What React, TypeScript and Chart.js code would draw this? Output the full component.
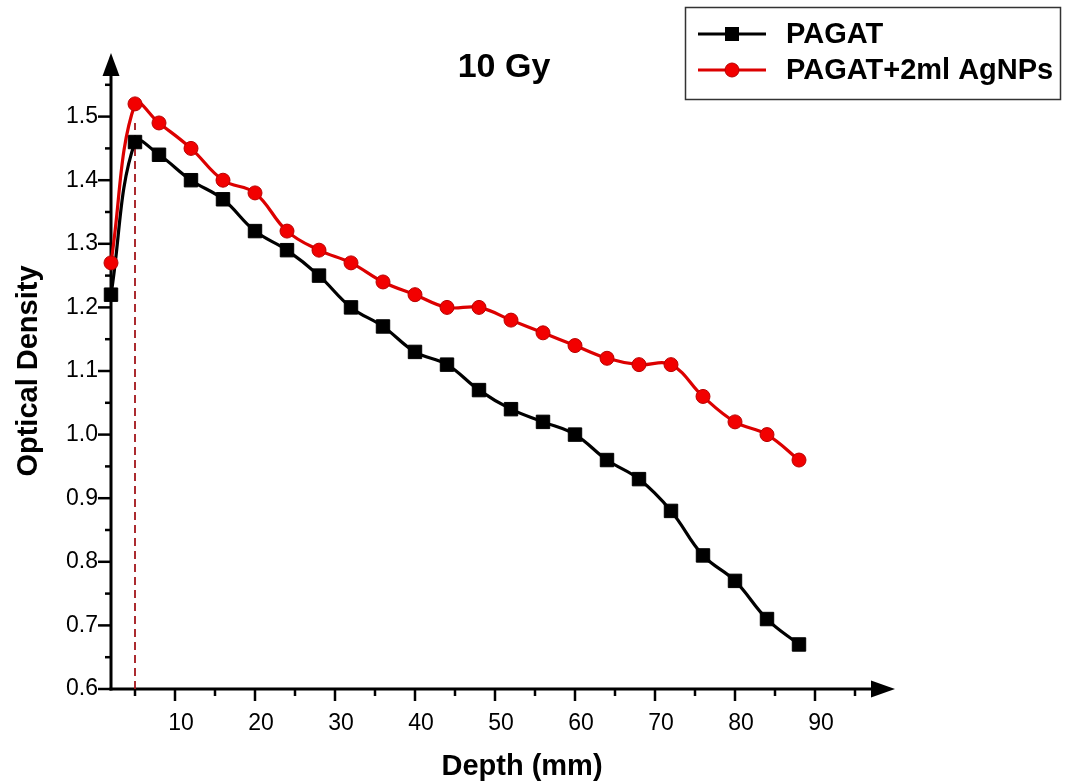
import React, { useEffect, useRef } from "react";
import { Chart, registerables } from "chart.js";

Chart.register(...registerables);

const FONT = "'Liberation Sans', Arial, Helvetica, sans-serif";

const depth = [2, 5, 8, 12, 16, 20, 24, 28, 32, 36, 40, 44, 48, 52, 56, 60, 64, 68, 72, 76, 80, 84, 88];
const pagat = [1.22, 1.46, 1.44, 1.40, 1.37, 1.32, 1.29, 1.25, 1.20, 1.17, 1.13, 1.11, 1.07, 1.04, 1.02, 1.00, 0.96, 0.93, 0.88, 0.81, 0.77, 0.71, 0.67];
const pagatAg = [1.27, 1.52, 1.49, 1.45, 1.40, 1.38, 1.32, 1.29, 1.27, 1.24, 1.22, 1.20, 1.20, 1.18, 1.16, 1.14, 1.12, 1.11, 1.11, 1.06, 1.02, 1.00, 0.96];
const markerLineX = [5, 5];
const markerLineY = [0.6, 1.49];

const xMajorTicks = [10, 20, 30, 40, 50, 60, 70, 80, 90];
const xMinorTicks = [5, 15, 25, 35, 45, 55, 65, 75, 85, 95];
const yMajorTicks = [0.6, 0.7, 0.8, 0.9, 1.0, 1.1, 1.2, 1.3, 1.4, 1.5];
const yMinorTicks = [0.65, 0.75, 0.85, 0.95, 1.05, 1.15, 1.25, 1.35, 1.45, 1.55];

const seriesLabels = ["PAGAT", "PAGAT+2ml AgNPs"];
const chartTitle = "10 Gy";
const xTitle = "Depth (mm)";
const yTitle = "Optical Density";

const BLACK = "#000000";
const RED_LINE = "#dc0000";
const RED_FILL = "#f20000";
const RED_EDGE = "#b80000";
const DASH_RED = "#a3151a";

const decorPlugin = {
  id: "decor",
  beforeDatasetsDraw(chart: any) {
    const { ctx, chartArea: ca, scales } = chart;
    const x = scales.x;
    const y = scales.y;
    ctx.save();
    ctx.strokeStyle = "#000";
    ctx.fillStyle = "#000";
    ctx.lineCap = "butt";
    // axis lines
    ctx.lineWidth = 3;
    ctx.beginPath();
    ctx.moveTo(ca.left - 1.5, ca.bottom);
    ctx.lineTo(ca.right - 12, ca.bottom);
    ctx.stroke();
    ctx.beginPath();
    ctx.moveTo(ca.left, ca.bottom + 1.5);
    ctx.lineTo(ca.left, ca.top + 12);
    ctx.stroke();
    // arrowheads
    ctx.beginPath();
    ctx.moveTo(ca.right, ca.bottom);
    ctx.lineTo(ca.right - 24, ca.bottom - 8.5);
    ctx.lineTo(ca.right - 24, ca.bottom + 8.5);
    ctx.closePath();
    ctx.fill();
    ctx.beginPath();
    ctx.moveTo(ca.left, ca.top);
    ctx.lineTo(ca.left - 8.5, ca.top + 23);
    ctx.lineTo(ca.left + 8.5, ca.top + 23);
    ctx.closePath();
    ctx.fill();
    // ticks
    ctx.lineWidth = 2.5;
    const seg = (x1: number, y1: number, x2: number, y2: number) => {
      ctx.beginPath();
      ctx.moveTo(x1, y1);
      ctx.lineTo(x2, y2);
      ctx.stroke();
    };
    xMajorTicks.forEach((v) => {
      const p = x.getPixelForValue(v);
      seg(p, ca.bottom, p, ca.bottom + 12);
    });
    xMinorTicks.forEach((v) => {
      const p = x.getPixelForValue(v);
      seg(p, ca.bottom, p, ca.bottom + 7);
    });
    yMajorTicks.forEach((v) => {
      const p = y.getPixelForValue(v);
      seg(ca.left - 13, p, ca.left, p);
    });
    yMinorTicks.forEach((v) => {
      const p = y.getPixelForValue(v);
      seg(ca.left - 6, p, ca.left, p);
    });
    ctx.restore();
  },
  afterDraw(chart: any) {
    const { ctx } = chart;
    ctx.save();
    // title
    ctx.fillStyle = "#000";
    ctx.font = `bold 34px ${FONT}`;
    ctx.textAlign = "center";
    ctx.textBaseline = "alphabetic";
    ctx.fillText(chartTitle, 504, 77);

    // x axis title
    ctx.font = `bold 29px ${FONT}`;
    ctx.fillText(xTitle, 522, 775);

    // legend
    ctx.strokeStyle = "#333";
    ctx.lineWidth = 1.5;
    ctx.strokeRect(685.5, 7.5, 375, 92);
    const rows = [
      { y: 34, ds: chart.data.datasets[1] },
      { y: 70, ds: chart.data.datasets[0] },
    ];
    rows.forEach((r) => {
      ctx.strokeStyle = r.ds.borderColor;
      ctx.lineWidth = 3;
      ctx.beginPath();
      ctx.moveTo(698, r.y);
      ctx.lineTo(766, r.y);
      ctx.stroke();
      ctx.fillStyle = r.ds.pointBackgroundColor;
      ctx.strokeStyle = r.ds.pointBorderColor;
      ctx.lineWidth = 1;
      if (r.ds.pointStyle === "rect") {
        ctx.fillRect(725, r.y - 7, 14, 14);
      } else {
        ctx.beginPath();
        ctx.arc(732, r.y, 7, 0, Math.PI * 2);
        ctx.fill();
        ctx.stroke();
      }
      ctx.fillStyle = "#000";
      ctx.font = `bold 29px ${FONT}`;
      ctx.textAlign = "left";
      ctx.textBaseline = "middle";
      ctx.fillText(r.ds.label, 786, r.y + 1);
    });
    ctx.restore();
  },
};

export default function App() {
  const canvasRef = useRef<HTMLCanvasElement | null>(null);

  useEffect(() => {
    if (!canvasRef.current) return;
    Chart.defaults.font.family = FONT;
    const chart = new Chart(canvasRef.current, {
      type: "line",
      data: {
        datasets: [
          {
            label: seriesLabels[1],
            data: depth.map((d, i) => ({ x: d, y: pagatAg[i] })),
            borderColor: RED_LINE,
            borderWidth: 3.2,
            pointStyle: "circle",
            pointRadius: 7,
            pointBorderWidth: 1,
            pointBackgroundColor: RED_FILL,
            pointBorderColor: RED_EDGE,
            tension: 0.4,
            order: 0,
            clip: false,
          } as any,
          {
            label: seriesLabels[0],
            data: depth.map((d, i) => ({ x: d, y: pagat[i] })),
            borderColor: BLACK,
            borderWidth: 3.2,
            pointStyle: "rect",
            pointRadius: 9.5,
            pointBorderWidth: 1,
            pointBackgroundColor: BLACK,
            pointBorderColor: BLACK,
            tension: 0.4,
            order: 1,
            clip: false,
          } as any,
          {
            label: "marker",
            data: markerLineX.map((d, i) => ({ x: d, y: markerLineY[i] })),
            borderColor: DASH_RED,
            borderWidth: 1.8,
            borderDash: [8, 5],
            pointRadius: 0,
            tension: 0,
            order: 2,
            clip: false,
          } as any,
        ],
      },
      options: {
        responsive: false,
        animation: false,
        devicePixelRatio: 1,
        layout: { padding: { top: 53, right: 175, left: 0, bottom: 0 } },
        plugins: {
          legend: { display: false },
          tooltip: { enabled: false },
          title: { display: false },
        },
        scales: {
          x: {
            type: "linear",
            min: 2,
            max: 100,
            afterFit: (s: any) => {
              s.height = 95;
            },
            ticks: {
              stepSize: 10,
              includeBounds: false,
              autoSkip: false,
              maxRotation: 0,
              padding: 9,
              labelOffset: 6,
              color: "#000",
              font: { size: 23, family: FONT },
              callback: (v: any) => (v >= 10 && v <= 90 ? String(v) : ""),
            },
            grid: {
              display: true,
              drawOnChartArea: false,
              drawTicks: true,
              tickLength: 12,
              color: "rgba(0,0,0,0)",
            },
            border: { display: false },
            title: { display: false, text: xTitle },
          },
          y: {
            type: "linear",
            min: 0.6,
            max: 1.6,
            afterFit: (s: any) => {
              s.width = 111;
            },
            ticks: {
              stepSize: 0.1,
              autoSkip: false,
              padding: 1,
              color: "#000",
              font: { size: 23, family: FONT },
              callback: (v: any) => (v > 1.55 ? "" : Number(v).toFixed(1)),
            },
            grid: {
              display: true,
              drawOnChartArea: false,
              drawTicks: true,
              tickLength: 12,
              color: "rgba(0,0,0,0)",
            },
            border: { display: false },
            title: {
              display: true,
              text: yTitle,
              color: "#000",
              font: { size: 29, weight: "bold", family: FONT },
              padding: { top: 12, bottom: 0 },
            },
          },
        },
      },
      plugins: [decorPlugin],
    });
    return () => chart.destroy();
  }, []);

  return (
    <div style={{ position: "absolute", left: 0, top: 0, width: 1070, height: 784, background: "#fff" }}>
      <canvas ref={canvasRef} width={1070} height={784} />
    </div>
  );
}
